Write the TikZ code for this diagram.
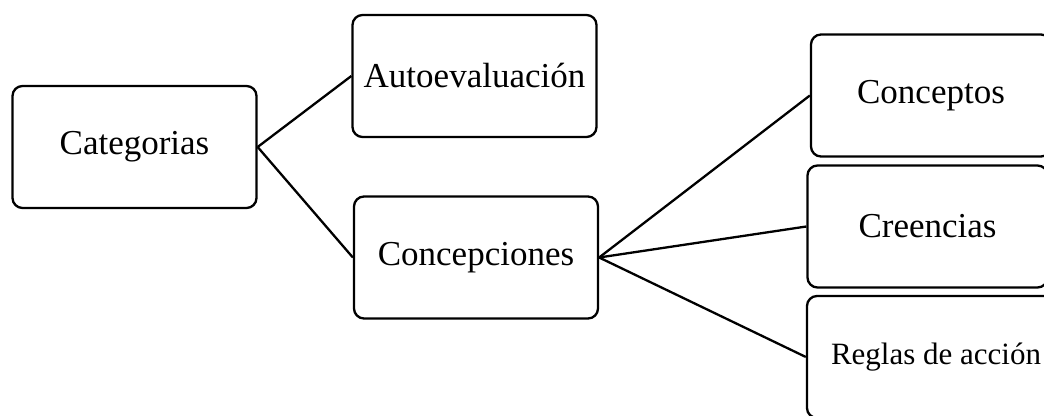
\documentclass[tikz,border=0pt]{standalone}
\usepackage{fontspec}
\setmainfont{Liberation Serif}
\usepackage{tikz}
\usetikzlibrary{calc,shapes}
\tikzset{
   main node/.style={rectangle,rounded corners=5pt,draw,line width=1.15pt,
                     minimum width=122pt,minimum height=61pt,inner sep=2pt,
                     font=\fontsize{17.5}{21}\selectfont},
   leaf node/.style={main node,minimum width=120pt}
}
\begin{document}
\begin{tikzpicture}[x=0.5pt,y=-0.5pt,line width=1.15pt]
\clip (0,0) rectangle (1044,416);
\node[main node] (cat)  at (134.5, 147)                   {Categorias};
\node[main node] (auto) at ($ (cat) + (340, -71) $)       {Autoevaluación};
\node[main node] (conc) at ($ (cat) + (341.5, 110.5) $)   {Concepciones};
%
\node[leaf node] (cpt)  at ($ (conc) + (455, -162) $)     {Conceptos};
\node[leaf node] (cre)  at ($ (conc) + (451.5, -31) $)    {Creencias};
\node[leaf node,minimum width=129pt,font=\fontsize{15.5}{19}\selectfont]
                 (reg)  at ($ (conc) + (460, 99.5) $)     {Reglas de acción};
%
\path[draw]
  (cat.east)  edge (auto.west)
  (cat.east)  edge (conc.west)
  (conc.east) edge (cpt.west)
  (conc.east) edge (cre.west)
  (conc.east) edge (reg.west)
  ;
\end{tikzpicture}
\end{document}
